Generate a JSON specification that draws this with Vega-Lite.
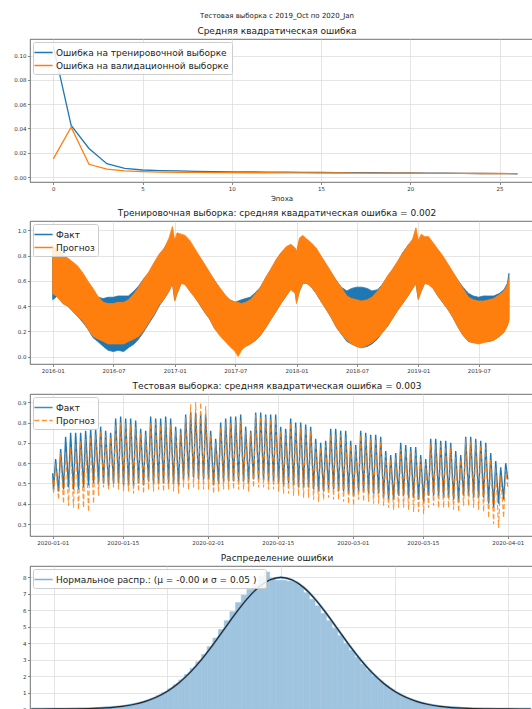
{
"$schema":"https://vega.github.io/schema/vega-lite/v6.json",
"padding":{"left":5,"top":11,"right":0,"bottom":0},
"title":{"text":"Тестовая выборка с 2019_Oct по 2020_Jan","fontSize":7,"offset":8},
"spacing":6,
"bounds":"full",
"resolve":{"scale":{"color":"independent","fill":"independent","stroke":"independent","strokeDash":"independent","x":"independent","y":"independent"},"legend":{"color":"independent","fill":"independent","stroke":"independent","strokeDash":"independent"}},
"datasets":{
"curve":[{"x":-0.22,"d":0.0005},{"x":-0.21,"d":0.0012},{"x":-0.2,"d":0.0027},{"x":-0.19,"d":0.0058},{"x":-0.18,"d":0.0122},{"x":-0.17,"d":0.0247},{"x":-0.16,"d":0.0477},{"x":-0.15,"d":0.0886},{"x":-0.14,"d":0.158},{"x":-0.13,"d":0.272},{"x":-0.12,"d":0.448},{"x":-0.11,"d":0.709},{"x":-0.1,"d":1.08},{"x":-0.09,"d":1.579},{"x":-0.08,"d":2.218},{"x":-0.07,"d":2.995},{"x":-0.06,"d":3.884},{"x":-0.05,"d":4.839},{"x":-0.04,"d":5.794},{"x":-0.03,"d":6.665},{"x":-0.02,"d":7.366},{"x":-0.01,"d":7.821},{"x":0,"d":7.979},{"x":0.01,"d":7.821},{"x":0.02,"d":7.366},{"x":0.03,"d":6.665},{"x":0.04,"d":5.794},{"x":0.05,"d":4.839},{"x":0.06,"d":3.884},{"x":0.07,"d":2.995},{"x":0.08,"d":2.218},{"x":0.09,"d":1.579},{"x":0.1,"d":1.08},{"x":0.11,"d":0.709},{"x":0.12,"d":0.448},{"x":0.13,"d":0.272},{"x":0.14,"d":0.158},{"x":0.15,"d":0.0886},{"x":0.16,"d":0.0477},{"x":0.17,"d":0.0247},{"x":0.18,"d":0.0122},{"x":0.19,"d":0.0058},{"x":0.2,"d":0.0027},{"x":0.21,"d":0.0012},{"x":0.22,"d":0.0005}]
},
"vconcat":[
{
"width":503,"height":143,
"title":{"text":"Средняя квадратическая ошибка"},
"data":{"values":[
{"e":0,"tr":0.108,"va":0.015},{"e":1,"tr":0.0425,"va":0.041},{"e":2,"tr":0.0235,"va":0.0105},{"e":3,"tr":0.011,"va":0.0065},{"e":4,"tr":0.0072,"va":0.005},{"e":5,"tr":0.0058,"va":0.0044},{"e":6,"tr":0.0053,"va":0.0041},{"e":7,"tr":0.005,"va":0.0039},{"e":8,"tr":0.0047,"va":0.0038},{"e":9,"tr":0.0045,"va":0.0037},{"e":10,"tr":0.0043,"va":0.0036},{"e":11,"tr":0.0042,"va":0.0035},{"e":12,"tr":0.0041,"va":0.0035},{"e":13,"tr":0.004,"va":0.0034},{"e":14,"tr":0.0039,"va":0.0034},{"e":15,"tr":0.0038,"va":0.0033},{"e":16,"tr":0.0037,"va":0.0033},{"e":17,"tr":0.0036,"va":0.0032},{"e":18,"tr":0.0035,"va":0.0032},{"e":19,"tr":0.0034,"va":0.0031},{"e":20,"tr":0.0033,"va":0.0031},{"e":21,"tr":0.0032,"va":0.003},{"e":22,"tr":0.0031,"va":0.003},{"e":23,"tr":0.003,"va":0.003},{"e":24,"tr":0.0029,"va":0.0029},{"e":25,"tr":0.0028,"va":0.0029},{"e":26,"tr":0.0027,"va":0.0028}
]},
"layer":[
{"mark":{"type":"line","strokeWidth":1.3,"clip":true},
"encoding":{
"x":{"field":"e","type":"quantitative","title":"Эпоха","scale":{"domain":[-1.305,26.87],"nice":false,"zero":false},"axis":{"values":[0,5,10,15,20,25],"format":"d","tickCount":30}},
"y":{"field":"tr","type":"quantitative","title":null,"scale":{"domain":[-0.0041,0.1137],"nice":false,"zero":false},"axis":{"values":[0,0.02,0.04,0.06,0.08,0.1],"format":".2f","tickCount":30}},
"color":{"datum":"Ошибка на тренировочной выборке","scale":{"domain":["Ошибка на тренировочной выборке","Ошибка на валидационной выборке"],"range":["#1f77b4","#ff7f0e"]},"legend":{"title":null}}}},
{"mark":{"type":"line","strokeWidth":1.3,"clip":true},
"encoding":{
"x":{"field":"e","type":"quantitative","title":"Эпоха"},
"y":{"field":"va","type":"quantitative","title":null},
"color":{"datum":"Ошибка на валидационной выборке"}}}
]
},
{
"width":503,"height":143,
"title":{"text":"Тренировочная выборка: средняя квадратическая ошибка = 0.002"},
"data":{"format":{"parse":{"t":"utc:'%Y-%m-%d'"}},"values":[
{"t":"2016-01-01","fl":0.45,"fh":0.85,"pl":0.5,"ph":0.88},
{"t":"2016-01-15","fl":0.48,"fh":0.82,"pl":0.47,"ph":0.84},
{"t":"2016-02-01","fl":0.42,"fh":0.8,"pl":0.42,"ph":0.81},
{"t":"2016-02-15","fl":0.4,"fh":0.77,"pl":0.4,"ph":0.78},
{"t":"2016-03-01","fl":0.36,"fh":0.74,"pl":0.36,"ph":0.75},
{"t":"2016-03-15","fl":0.32,"fh":0.7,"pl":0.32,"ph":0.72},
{"t":"2016-04-01","fl":0.27,"fh":0.64,"pl":0.28,"ph":0.66},
{"t":"2016-04-15","fl":0.22,"fh":0.58,"pl":0.22,"ph":0.6},
{"t":"2016-05-01","fl":0.15,"fh":0.52,"pl":0.16,"ph":0.54},
{"t":"2016-05-15","fl":0.12,"fh":0.47,"pl":0.14,"ph":0.48},
{"t":"2016-06-01","fl":0.08,"fh":0.46,"pl":0.12,"ph":0.43},
{"t":"2016-06-15","fl":0.05,"fh":0.47,"pl":0.1,"ph":0.42},
{"t":"2016-07-01","fl":0.04,"fh":0.47,"pl":0.1,"ph":0.42},
{"t":"2016-07-15","fl":0.05,"fh":0.48,"pl":0.1,"ph":0.43},
{"t":"2016-08-01","fl":0.04,"fh":0.48,"pl":0.1,"ph":0.43},
{"t":"2016-08-15","fl":0.07,"fh":0.48,"pl":0.12,"ph":0.45},
{"t":"2016-09-01","fl":0.1,"fh":0.52,"pl":0.14,"ph":0.5},
{"t":"2016-09-15","fl":0.14,"fh":0.56,"pl":0.16,"ph":0.55},
{"t":"2016-10-01","fl":0.2,"fh":0.62,"pl":0.21,"ph":0.62},
{"t":"2016-10-15","fl":0.26,"fh":0.66,"pl":0.27,"ph":0.67},
{"t":"2016-11-01","fl":0.33,"fh":0.74,"pl":0.34,"ph":0.75},
{"t":"2016-11-15","fl":0.4,"fh":0.8,"pl":0.41,"ph":0.81},
{"t":"2016-12-01","fl":0.46,"fh":0.86,"pl":0.46,"ph":0.86},
{"t":"2016-12-15","fl":0.52,"fh":0.92,"pl":0.52,"ph":0.94},
{"t":"2016-12-25","fl":0.58,"fh":0.98,"pl":0.58,"ph":1.03},
{"t":"2017-01-01","fl":0.45,"fh":0.9,"pl":0.44,"ph":0.92},
{"t":"2017-01-08","fl":0.5,"fh":0.95,"pl":0.5,"ph":0.98},
{"t":"2017-01-20","fl":0.58,"fh":0.95,"pl":0.58,"ph":0.97},
{"t":"2017-02-01","fl":0.58,"fh":0.94,"pl":0.57,"ph":0.96},
{"t":"2017-02-15","fl":0.52,"fh":0.9,"pl":0.52,"ph":0.92},
{"t":"2017-03-01","fl":0.48,"fh":0.84,"pl":0.47,"ph":0.86},
{"t":"2017-03-15","fl":0.42,"fh":0.79,"pl":0.42,"ph":0.8},
{"t":"2017-04-01","fl":0.35,"fh":0.72,"pl":0.35,"ph":0.73},
{"t":"2017-04-15","fl":0.3,"fh":0.66,"pl":0.3,"ph":0.67},
{"t":"2017-05-01","fl":0.22,"fh":0.6,"pl":0.22,"ph":0.6},
{"t":"2017-05-15","fl":0.18,"fh":0.54,"pl":0.17,"ph":0.55},
{"t":"2017-06-01","fl":0.13,"fh":0.48,"pl":0.12,"ph":0.49},
{"t":"2017-06-15","fl":0.1,"fh":0.45,"pl":0.08,"ph":0.45},
{"t":"2017-07-01","fl":0.07,"fh":0.43,"pl":0.04,"ph":0.43},
{"t":"2017-07-10","fl":0.06,"fh":0.44,"pl":0.0,"ph":0.43},
{"t":"2017-07-20","fl":0.07,"fh":0.45,"pl":0.05,"ph":0.42},
{"t":"2017-08-01","fl":0.08,"fh":0.46,"pl":0.08,"ph":0.43},
{"t":"2017-08-15","fl":0.1,"fh":0.47,"pl":0.1,"ph":0.45},
{"t":"2017-09-01","fl":0.13,"fh":0.51,"pl":0.13,"ph":0.5},
{"t":"2017-09-15","fl":0.17,"fh":0.55,"pl":0.17,"ph":0.55},
{"t":"2017-10-01","fl":0.23,"fh":0.62,"pl":0.23,"ph":0.63},
{"t":"2017-10-15","fl":0.29,"fh":0.68,"pl":0.29,"ph":0.69},
{"t":"2017-11-01","fl":0.36,"fh":0.76,"pl":0.36,"ph":0.77},
{"t":"2017-11-15","fl":0.42,"fh":0.82,"pl":0.42,"ph":0.82},
{"t":"2017-12-01","fl":0.48,"fh":0.86,"pl":0.48,"ph":0.87},
{"t":"2017-12-15","fl":0.54,"fh":0.88,"pl":0.53,"ph":0.89},
{"t":"2017-12-28","fl":0.52,"fh":0.85,"pl":0.5,"ph":0.86},
{"t":"2018-01-01","fl":0.44,"fh":0.82,"pl":0.42,"ph":0.83},
{"t":"2018-01-10","fl":0.52,"fh":0.92,"pl":0.52,"ph":0.94},
{"t":"2018-01-20","fl":0.58,"fh":0.94,"pl":0.58,"ph":0.96},
{"t":"2018-02-01","fl":0.58,"fh":0.92,"pl":0.58,"ph":0.93},
{"t":"2018-02-15","fl":0.55,"fh":0.88,"pl":0.55,"ph":0.9},
{"t":"2018-03-01","fl":0.5,"fh":0.84,"pl":0.5,"ph":0.86},
{"t":"2018-03-15","fl":0.44,"fh":0.79,"pl":0.44,"ph":0.8},
{"t":"2018-04-01","fl":0.37,"fh":0.72,"pl":0.37,"ph":0.73},
{"t":"2018-04-15","fl":0.31,"fh":0.66,"pl":0.31,"ph":0.67},
{"t":"2018-05-01","fl":0.23,"fh":0.6,"pl":0.23,"ph":0.6},
{"t":"2018-05-15","fl":0.18,"fh":0.55,"pl":0.18,"ph":0.55},
{"t":"2018-06-01","fl":0.12,"fh":0.52,"pl":0.13,"ph":0.48},
{"t":"2018-06-15","fl":0.1,"fh":0.54,"pl":0.1,"ph":0.46},
{"t":"2018-07-01","fl":0.08,"fh":0.55,"pl":0.08,"ph":0.45},
{"t":"2018-07-15","fl":0.07,"fh":0.55,"pl":0.07,"ph":0.44},
{"t":"2018-08-01","fl":0.08,"fh":0.54,"pl":0.09,"ph":0.45},
{"t":"2018-08-15","fl":0.1,"fh":0.52,"pl":0.11,"ph":0.47},
{"t":"2018-09-01","fl":0.14,"fh":0.53,"pl":0.15,"ph":0.52},
{"t":"2018-09-15","fl":0.19,"fh":0.57,"pl":0.19,"ph":0.57},
{"t":"2018-10-01","fl":0.24,"fh":0.63,"pl":0.24,"ph":0.64},
{"t":"2018-10-15","fl":0.3,"fh":0.68,"pl":0.3,"ph":0.69},
{"t":"2018-11-01","fl":0.37,"fh":0.75,"pl":0.37,"ph":0.76},
{"t":"2018-11-15","fl":0.42,"fh":0.82,"pl":0.42,"ph":0.82},
{"t":"2018-12-01","fl":0.48,"fh":0.88,"pl":0.48,"ph":0.88},
{"t":"2018-12-15","fl":0.54,"fh":0.92,"pl":0.54,"ph":0.93},
{"t":"2018-12-25","fl":0.58,"fh":0.98,"pl":0.58,"ph":1.02},
{"t":"2019-01-01","fl":0.46,"fh":0.9,"pl":0.45,"ph":0.92},
{"t":"2019-01-10","fl":0.52,"fh":0.94,"pl":0.52,"ph":0.97},
{"t":"2019-01-20","fl":0.58,"fh":0.93,"pl":0.58,"ph":0.95},
{"t":"2019-02-01","fl":0.58,"fh":0.92,"pl":0.57,"ph":0.95},
{"t":"2019-02-15","fl":0.54,"fh":0.88,"pl":0.54,"ph":0.9},
{"t":"2019-03-01","fl":0.48,"fh":0.84,"pl":0.48,"ph":0.85},
{"t":"2019-03-15","fl":0.43,"fh":0.79,"pl":0.43,"ph":0.8},
{"t":"2019-04-01","fl":0.37,"fh":0.72,"pl":0.37,"ph":0.73},
{"t":"2019-04-15","fl":0.31,"fh":0.66,"pl":0.31,"ph":0.67},
{"t":"2019-05-01","fl":0.23,"fh":0.6,"pl":0.23,"ph":0.6},
{"t":"2019-05-15","fl":0.17,"fh":0.55,"pl":0.17,"ph":0.54},
{"t":"2019-06-01","fl":0.12,"fh":0.5,"pl":0.12,"ph":0.47},
{"t":"2019-06-15","fl":0.11,"fh":0.48,"pl":0.11,"ph":0.45},
{"t":"2019-07-01","fl":0.11,"fh":0.47,"pl":0.1,"ph":0.44},
{"t":"2019-07-15","fl":0.12,"fh":0.48,"pl":0.11,"ph":0.44},
{"t":"2019-08-01","fl":0.12,"fh":0.48,"pl":0.12,"ph":0.45},
{"t":"2019-08-15","fl":0.13,"fh":0.48,"pl":0.13,"ph":0.46},
{"t":"2019-09-01","fl":0.16,"fh":0.5,"pl":0.16,"ph":0.49},
{"t":"2019-09-15","fl":0.2,"fh":0.53,"pl":0.19,"ph":0.52},
{"t":"2019-09-25","fl":0.25,"fh":0.58,"pl":0.24,"ph":0.57},
{"t":"2019-09-30","fl":0.3,"fh":0.66,"pl":0.28,"ph":0.62}
]},
"encoding":{"x":{"field":"t","type":"temporal","title":null,"scale":{"type":"utc","nice":false,"domain":[{"year":2015,"month":10,"date":25,"utc":true},{"year":2019,"month":12,"date":11,"utc":true}]},"axis":{"format":"%Y-%m","tickCount":30,"values":[{"year":2016,"month":1,"date":1,"utc":true},{"year":2016,"month":7,"date":1,"utc":true},{"year":2017,"month":1,"date":1,"utc":true},{"year":2017,"month":7,"date":1,"utc":true},{"year":2018,"month":1,"date":1,"utc":true},{"year":2018,"month":7,"date":1,"utc":true},{"year":2019,"month":1,"date":1,"utc":true},{"year":2019,"month":7,"date":1,"utc":true}]}}},
"layer":[
{"mark":{"type":"area","opacity":1,"strokeWidth":0.8,"clip":true},
"encoding":{
"y":{"field":"fl","type":"quantitative","title":null,"scale":{"domain":[-0.0587,1.074],"nice":false,"zero":false},"axis":{"values":[0,0.2,0.4,0.6,0.8,1.0],"format":".1f","tickCount":30}},
"y2":{"field":"fh"},
"fill":{"datum":"Факт","scale":{"domain":["Факт","Прогноз"],"range":["#1f77b4","#ff7f0e"]},"legend":{"title":null}},
"stroke":{"datum":"Факт","scale":{"domain":["Факт","Прогноз"],"range":["#1f77b4","#ff7f0e"]},"legend":{"title":null}},
"strokeDash":{"datum":"Факт","scale":{"domain":["Факт","Прогноз"],"range":[[1,0],[5,2.5]]},"legend":{"title":null}}}},
{"mark":{"type":"area","opacity":1,"strokeWidth":0.8,"clip":true},
"encoding":{
"y":{"field":"pl","type":"quantitative","title":null},
"y2":{"field":"ph"},
"fill":{"datum":"Прогноз"},
"stroke":{"datum":"Прогноз"},
"strokeDash":{"datum":"Прогноз"}}}
]
},
{
"width":503,"height":142,
"title":{"text":"Тестовая выборка: средняя квадратическая ошибка = 0.003"},
"data":{"format":{"parse":{"t":"utc:'%Y-%m-%d %H'"}},"values":[
{"t":"2020-01-01 00","f":0.55,"p":0.52},
{"t":"2020-01-01 04","f":0.47,"p":0.45},{"t":"2020-01-01 14","f":0.62,"p":0.6},
{"t":"2020-01-02 04","f":0.46,"p":0.42},{"t":"2020-01-02 14","f":0.67,"p":0.65},
{"t":"2020-01-03 04","f":0.47,"p":0.4},{"t":"2020-01-03 14","f":0.73,"p":0.66},
{"t":"2020-01-04 04","f":0.48,"p":0.39},{"t":"2020-01-04 14","f":0.75,"p":0.68},
{"t":"2020-01-05 04","f":0.47,"p":0.38},{"t":"2020-01-05 14","f":0.75,"p":0.7},
{"t":"2020-01-06 04","f":0.47,"p":0.37},{"t":"2020-01-06 14","f":0.75,"p":0.71},
{"t":"2020-01-07 04","f":0.48,"p":0.38},{"t":"2020-01-07 14","f":0.76,"p":0.72},
{"t":"2020-01-08 04","f":0.49,"p":0.36},{"t":"2020-01-08 14","f":0.77,"p":0.73},
{"t":"2020-01-09 04","f":0.5,"p":0.4},{"t":"2020-01-09 14","f":0.77,"p":0.74},
{"t":"2020-01-10 04","f":0.5,"p":0.44},{"t":"2020-01-10 14","f":0.78,"p":0.76},
{"t":"2020-01-11 04","f":0.5,"p":0.48},{"t":"2020-01-11 14","f":0.76,"p":0.74},
{"t":"2020-01-12 04","f":0.49,"p":0.47},{"t":"2020-01-12 14","f":0.75,"p":0.73},
{"t":"2020-01-13 04","f":0.5,"p":0.48},{"t":"2020-01-13 14","f":0.82,"p":0.79},
{"t":"2020-01-14 04","f":0.5,"p":0.47},{"t":"2020-01-14 14","f":0.83,"p":0.8},
{"t":"2020-01-15 04","f":0.49,"p":0.46},{"t":"2020-01-15 14","f":0.82,"p":0.8},
{"t":"2020-01-16 04","f":0.49,"p":0.46},{"t":"2020-01-16 14","f":0.82,"p":0.79},
{"t":"2020-01-17 04","f":0.49,"p":0.45},{"t":"2020-01-17 14","f":0.81,"p":0.78},
{"t":"2020-01-18 04","f":0.5,"p":0.46},{"t":"2020-01-18 14","f":0.77,"p":0.75},
{"t":"2020-01-19 04","f":0.49,"p":0.45},{"t":"2020-01-19 14","f":0.76,"p":0.74},
{"t":"2020-01-20 04","f":0.51,"p":0.47},{"t":"2020-01-20 14","f":0.83,"p":0.8},
{"t":"2020-01-21 04","f":0.5,"p":0.46},{"t":"2020-01-21 14","f":0.82,"p":0.8},
{"t":"2020-01-22 04","f":0.5,"p":0.47},{"t":"2020-01-22 14","f":0.82,"p":0.79},
{"t":"2020-01-23 04","f":0.5,"p":0.46},{"t":"2020-01-23 14","f":0.83,"p":0.8},
{"t":"2020-01-24 04","f":0.5,"p":0.47},{"t":"2020-01-24 14","f":0.82,"p":0.79},
{"t":"2020-01-25 04","f":0.5,"p":0.46},{"t":"2020-01-25 14","f":0.78,"p":0.76},
{"t":"2020-01-26 04","f":0.49,"p":0.45},{"t":"2020-01-26 14","f":0.77,"p":0.75},
{"t":"2020-01-27 04","f":0.52,"p":0.48},{"t":"2020-01-27 14","f":0.84,"p":0.83},
{"t":"2020-01-28 04","f":0.53,"p":0.47},{"t":"2020-01-28 14","f":0.85,"p":0.89},
{"t":"2020-01-29 04","f":0.53,"p":0.48},{"t":"2020-01-29 14","f":0.85,"p":0.9},
{"t":"2020-01-30 04","f":0.52,"p":0.47},{"t":"2020-01-30 14","f":0.84,"p":0.9},
{"t":"2020-01-31 04","f":0.52,"p":0.47},{"t":"2020-01-31 14","f":0.84,"p":0.88},
{"t":"2020-02-01 04","f":0.52,"p":0.47},{"t":"2020-02-01 14","f":0.76,"p":0.74},
{"t":"2020-02-02 04","f":0.49,"p":0.45},{"t":"2020-02-02 14","f":0.72,"p":0.7},
{"t":"2020-02-03 04","f":0.5,"p":0.46},{"t":"2020-02-03 14","f":0.8,"p":0.78},
{"t":"2020-02-04 04","f":0.51,"p":0.47},{"t":"2020-02-04 14","f":0.82,"p":0.8},
{"t":"2020-02-05 04","f":0.51,"p":0.47},{"t":"2020-02-05 14","f":0.83,"p":0.8},
{"t":"2020-02-06 04","f":0.51,"p":0.47},{"t":"2020-02-06 14","f":0.83,"p":0.81},
{"t":"2020-02-07 04","f":0.51,"p":0.47},{"t":"2020-02-07 14","f":0.84,"p":0.81},
{"t":"2020-02-08 04","f":0.51,"p":0.47},{"t":"2020-02-08 14","f":0.78,"p":0.76},
{"t":"2020-02-09 04","f":0.5,"p":0.46},{"t":"2020-02-09 14","f":0.76,"p":0.75},
{"t":"2020-02-10 04","f":0.52,"p":0.48},{"t":"2020-02-10 14","f":0.85,"p":0.84},
{"t":"2020-02-11 04","f":0.52,"p":0.48},{"t":"2020-02-11 14","f":0.85,"p":0.83},
{"t":"2020-02-12 04","f":0.52,"p":0.48},{"t":"2020-02-12 14","f":0.84,"p":0.83},
{"t":"2020-02-13 04","f":0.51,"p":0.47},{"t":"2020-02-13 14","f":0.84,"p":0.82},
{"t":"2020-02-14 04","f":0.51,"p":0.47},{"t":"2020-02-14 14","f":0.84,"p":0.82},
{"t":"2020-02-15 04","f":0.5,"p":0.46},{"t":"2020-02-15 14","f":0.78,"p":0.76},
{"t":"2020-02-16 04","f":0.49,"p":0.45},{"t":"2020-02-16 14","f":0.77,"p":0.75},
{"t":"2020-02-17 04","f":0.5,"p":0.45},{"t":"2020-02-17 14","f":0.82,"p":0.8},
{"t":"2020-02-18 04","f":0.49,"p":0.44},{"t":"2020-02-18 14","f":0.8,"p":0.78},
{"t":"2020-02-19 04","f":0.48,"p":0.44},{"t":"2020-02-19 14","f":0.8,"p":0.78},
{"t":"2020-02-20 04","f":0.48,"p":0.43},{"t":"2020-02-20 14","f":0.79,"p":0.77},
{"t":"2020-02-21 04","f":0.48,"p":0.43},{"t":"2020-02-21 14","f":0.78,"p":0.76},
{"t":"2020-02-22 04","f":0.47,"p":0.42},{"t":"2020-02-22 14","f":0.72,"p":0.7},
{"t":"2020-02-23 04","f":0.46,"p":0.41},{"t":"2020-02-23 14","f":0.7,"p":0.68},
{"t":"2020-02-24 04","f":0.46,"p":0.42},{"t":"2020-02-24 14","f":0.71,"p":0.69},
{"t":"2020-02-25 04","f":0.47,"p":0.43},{"t":"2020-02-25 14","f":0.77,"p":0.74},
{"t":"2020-02-26 04","f":0.47,"p":0.42},{"t":"2020-02-26 14","f":0.77,"p":0.74},
{"t":"2020-02-27 04","f":0.46,"p":0.42},{"t":"2020-02-27 14","f":0.76,"p":0.74},
{"t":"2020-02-28 04","f":0.46,"p":0.41},{"t":"2020-02-28 14","f":0.76,"p":0.73},
{"t":"2020-02-29 04","f":0.45,"p":0.4},{"t":"2020-02-29 14","f":0.71,"p":0.69},
{"t":"2020-03-01 04","f":0.44,"p":0.39},{"t":"2020-03-01 14","f":0.69,"p":0.67},
{"t":"2020-03-02 04","f":0.46,"p":0.42},{"t":"2020-03-02 14","f":0.76,"p":0.74},
{"t":"2020-03-03 04","f":0.46,"p":0.41},{"t":"2020-03-03 14","f":0.75,"p":0.73},
{"t":"2020-03-04 04","f":0.45,"p":0.41},{"t":"2020-03-04 14","f":0.74,"p":0.72},
{"t":"2020-03-05 04","f":0.45,"p":0.4},{"t":"2020-03-05 14","f":0.74,"p":0.72},
{"t":"2020-03-06 04","f":0.45,"p":0.4},{"t":"2020-03-06 14","f":0.73,"p":0.71},
{"t":"2020-03-07 04","f":0.43,"p":0.39},{"t":"2020-03-07 14","f":0.66,"p":0.64},
{"t":"2020-03-08 04","f":0.42,"p":0.38},{"t":"2020-03-08 14","f":0.64,"p":0.62},
{"t":"2020-03-09 04","f":0.42,"p":0.37},{"t":"2020-03-09 14","f":0.65,"p":0.63},
{"t":"2020-03-10 04","f":0.44,"p":0.38},{"t":"2020-03-10 14","f":0.7,"p":0.67},
{"t":"2020-03-11 04","f":0.44,"p":0.38},{"t":"2020-03-11 14","f":0.69,"p":0.66},
{"t":"2020-03-12 04","f":0.43,"p":0.37},{"t":"2020-03-12 14","f":0.68,"p":0.66},
{"t":"2020-03-13 04","f":0.43,"p":0.36},{"t":"2020-03-13 14","f":0.68,"p":0.65},
{"t":"2020-03-14 04","f":0.42,"p":0.36},{"t":"2020-03-14 14","f":0.64,"p":0.62},
{"t":"2020-03-15 04","f":0.41,"p":0.35},{"t":"2020-03-15 14","f":0.62,"p":0.6},
{"t":"2020-03-16 04","f":0.44,"p":0.38},{"t":"2020-03-16 14","f":0.72,"p":0.7},
{"t":"2020-03-17 04","f":0.44,"p":0.39},{"t":"2020-03-17 14","f":0.72,"p":0.69},
{"t":"2020-03-18 04","f":0.44,"p":0.38},{"t":"2020-03-18 14","f":0.71,"p":0.69},
{"t":"2020-03-19 04","f":0.43,"p":0.38},{"t":"2020-03-19 14","f":0.71,"p":0.68},
{"t":"2020-03-20 04","f":0.43,"p":0.38},{"t":"2020-03-20 14","f":0.7,"p":0.68},
{"t":"2020-03-21 04","f":0.42,"p":0.37},{"t":"2020-03-21 14","f":0.66,"p":0.63},
{"t":"2020-03-22 04","f":0.41,"p":0.36},{"t":"2020-03-22 14","f":0.64,"p":0.62},
{"t":"2020-03-23 04","f":0.44,"p":0.39},{"t":"2020-03-23 14","f":0.73,"p":0.72},
{"t":"2020-03-24 04","f":0.44,"p":0.39},{"t":"2020-03-24 14","f":0.73,"p":0.71},
{"t":"2020-03-25 04","f":0.43,"p":0.38},{"t":"2020-03-25 14","f":0.72,"p":0.7},
{"t":"2020-03-26 04","f":0.43,"p":0.37},{"t":"2020-03-26 14","f":0.71,"p":0.69},
{"t":"2020-03-27 04","f":0.43,"p":0.36},{"t":"2020-03-27 14","f":0.7,"p":0.68},
{"t":"2020-03-28 04","f":0.4,"p":0.33},{"t":"2020-03-28 14","f":0.65,"p":0.62},
{"t":"2020-03-29 04","f":0.38,"p":0.3},{"t":"2020-03-29 14","f":0.61,"p":0.58},
{"t":"2020-03-30 04","f":0.4,"p":0.28},{"t":"2020-03-30 14","f":0.58,"p":0.54},
{"t":"2020-03-31 04","f":0.42,"p":0.33},{"t":"2020-03-31 14","f":0.6,"p":0.57},
{"t":"2020-04-01 00","f":0.52,"p":0.48}
]},
"encoding":{"x":{"field":"t","type":"temporal","title":null,"scale":{"type":"utc","nice":false,"domain":[{"year":2019,"month":12,"date":27,"hours":11,"utc":true},{"year":2020,"month":4,"date":6,"hours":1,"utc":true}]},"axis":{"format":"%Y-%m-%d","tickCount":30,"values":[{"year":2020,"month":1,"date":1,"utc":true},{"year":2020,"month":1,"date":15,"utc":true},{"year":2020,"month":2,"date":1,"utc":true},{"year":2020,"month":2,"date":15,"utc":true},{"year":2020,"month":3,"date":1,"utc":true},{"year":2020,"month":3,"date":15,"utc":true},{"year":2020,"month":4,"date":1,"utc":true}]}}},
"layer":[
{"mark":{"type":"line","strokeWidth":1.4,"clip":true},
"encoding":{
"y":{"field":"f","type":"quantitative","title":null,"scale":{"domain":[0.241,0.941],"nice":false,"zero":false},"axis":{"values":[0.3,0.4,0.5,0.6,0.7,0.8,0.9],"format":".1f","tickCount":30}},
"color":{"datum":"Факт","scale":{"domain":["Факт","Прогноз"],"range":["#1f77b4","#ff7f0e"]},"legend":{"title":null}},
"strokeDash":{"datum":"Факт","scale":{"domain":["Факт","Прогноз"],"range":[[1,0],[5,2.5]]},"legend":{"title":null}}}},
{"mark":{"type":"line","strokeWidth":1.1,"clip":true,"opacity":0.85},
"encoding":{
"y":{"field":"p","type":"quantitative","title":null},
"color":{"datum":"Прогноз"},
"strokeDash":{"datum":"Прогноз"}}}
]
},
{
"width":503,"height":143,
"title":{"text":"Распределение ошибки"},
"layer":[
{"data":{"values":[
{"b0":-0.2,"b1":-0.195,"h":0.003},{"b0":-0.195,"b1":-0.19,"h":0.005},{"b0":-0.19,"b1":-0.185,"h":0.007},{"b0":-0.185,"b1":-0.18,"h":0.01},{"b0":-0.18,"b1":-0.175,"h":0.015},{"b0":-0.175,"b1":-0.17,"h":0.021},{"b0":-0.17,"b1":-0.165,"h":0.03},{"b0":-0.165,"b1":-0.16,"h":0.042},{"b0":-0.16,"b1":-0.155,"h":0.058},{"b0":-0.155,"b1":-0.15,"h":0.08},
{"b0":-0.15,"b1":-0.145,"h":0.11},{"b0":-0.145,"b1":-0.14,"h":0.145},{"b0":-0.14,"b1":-0.135,"h":0.19},{"b0":-0.135,"b1":-0.13,"h":0.25},{"b0":-0.13,"b1":-0.125,"h":0.32},{"b0":-0.125,"b1":-0.12,"h":0.41},{"b0":-0.12,"b1":-0.115,"h":0.52},{"b0":-0.115,"b1":-0.11,"h":0.65},{"b0":-0.11,"b1":-0.105,"h":0.81},{"b0":-0.105,"b1":-0.1,"h":1.0},
{"b0":-0.1,"b1":-0.095,"h":1.22},{"b0":-0.095,"b1":-0.09,"h":1.47},{"b0":-0.09,"b1":-0.085,"h":1.76},{"b0":-0.085,"b1":-0.08,"h":2.09},{"b0":-0.08,"b1":-0.075,"h":2.46},{"b0":-0.075,"b1":-0.07,"h":2.86},{"b0":-0.07,"b1":-0.065,"h":3.3},{"b0":-0.065,"b1":-0.06,"h":3.78},{"b0":-0.06,"b1":-0.055,"h":4.3},{"b0":-0.055,"b1":-0.05,"h":4.82},
{"b0":-0.05,"b1":-0.045,"h":5.35},{"b0":-0.045,"b1":-0.04,"h":5.9},{"b0":-0.04,"b1":-0.035,"h":6.45},{"b0":-0.035,"b1":-0.03,"h":6.9},{"b0":-0.03,"b1":-0.025,"h":7.25},{"b0":-0.025,"b1":-0.02,"h":7.55},{"b0":-0.02,"b1":-0.015,"h":8.05},{"b0":-0.015,"b1":-0.01,"h":8.3},{"b0":-0.01,"b1":-0.005,"h":7.95},{"b0":-0.005,"b1":0,"h":7.8},
{"b0":0,"b1":0.005,"h":7.8},{"b0":0.005,"b1":0.01,"h":7.75},{"b0":0.01,"b1":0.015,"h":7.7},{"b0":0.015,"b1":0.02,"h":7.45},{"b0":0.02,"b1":0.025,"h":7.05},{"b0":0.025,"b1":0.03,"h":6.65},{"b0":0.03,"b1":0.035,"h":6.25},{"b0":0.035,"b1":0.04,"h":5.8},{"b0":0.04,"b1":0.045,"h":5.35},{"b0":0.045,"b1":0.05,"h":4.9},
{"b0":0.05,"b1":0.055,"h":4.45},{"b0":0.055,"b1":0.06,"h":3.98},{"b0":0.06,"b1":0.065,"h":3.55},{"b0":0.065,"b1":0.07,"h":3.12},{"b0":0.07,"b1":0.075,"h":2.72},{"b0":0.075,"b1":0.08,"h":2.35},{"b0":0.08,"b1":0.085,"h":2.0},{"b0":0.085,"b1":0.09,"h":1.7},{"b0":0.09,"b1":0.095,"h":1.42},{"b0":0.095,"b1":0.1,"h":1.18},
{"b0":0.1,"b1":0.105,"h":0.97},{"b0":0.105,"b1":0.11,"h":0.79},{"b0":0.11,"b1":0.115,"h":0.64},{"b0":0.115,"b1":0.12,"h":0.51},{"b0":0.12,"b1":0.125,"h":0.4},{"b0":0.125,"b1":0.13,"h":0.31},{"b0":0.13,"b1":0.135,"h":0.24},{"b0":0.135,"b1":0.14,"h":0.18},{"b0":0.14,"b1":0.145,"h":0.14},{"b0":0.145,"b1":0.15,"h":0.1},
{"b0":0.15,"b1":0.155,"h":0.076},{"b0":0.155,"b1":0.16,"h":0.056},{"b0":0.16,"b1":0.165,"h":0.041},{"b0":0.165,"b1":0.17,"h":0.029},{"b0":0.17,"b1":0.175,"h":0.021},{"b0":0.175,"b1":0.18,"h":0.015},{"b0":0.18,"b1":0.185,"h":0.01},{"b0":0.185,"b1":0.19,"h":0.007},{"b0":0.19,"b1":0.195,"h":0.005},{"b0":0.195,"b1":0.2,"h":0.003}
]},
"mark":{"type":"rect","color":"#9fc4df","stroke":"#9fc4df","strokeWidth":0.6,"opacity":1,"clip":true},
"encoding":{
"x":{"field":"b0","type":"quantitative","title":null,"scale":{"domain":[-0.2211,0.222],"nice":false,"zero":false},"axis":{"values":[-0.2,-0.1,0,0.1,0.2],"format":".1f","tickCount":30}},
"x2":{"field":"b1"},
"y":{"field":"h","type":"quantitative","title":null,"scale":{"domain":[0,8.67],"nice":false},"axis":{"values":[0,1,2,3,4,5,6,7,8],"format":"d","tickCount":30}},
"y2":{"datum":0}}},
{"data":{"name":"curve"},
"mark":{"type":"line","interpolate":"monotone","strokeWidth":2.4,"clip":true},
"encoding":{
"x":{"field":"x","type":"quantitative","title":null},
"y":{"field":"d","type":"quantitative","title":null},
"color":{"datum":"Нормальное распр.: (μ =  -0.00 и σ =  0.05 )","scale":{"range":["#7fb1d8"]},"legend":{"title":null}}}},
{"data":{"name":"curve"},
"mark":{"type":"line","interpolate":"monotone","strokeWidth":1.2,"color":"#262626","clip":true},
"encoding":{
"x":{"field":"x","type":"quantitative","title":null},
"y":{"field":"d","type":"quantitative","title":null}}}
]
}
],
"config":{
"font":"DejaVu Sans",
"background":"white",
"view":{"stroke":"#4d4d4d","strokeWidth":0.8},
"axis":{"grid":true,"gridColor":"#dadada","gridWidth":0.7,"domain":false,"tickColor":"#555555","tickSize":2.5,"tickWidth":0.7,"labelFontSize":5.5,"labelColor":"#333333","labelPadding":1.5,"labelOverlap":false,"labelFlush":false,"labelBound":false,"titleFontSize":7,"titleFontWeight":"normal","titleColor":"#222222","titlePadding":2},
"axisY":{"minExtent":24,"maxExtent":24},
"axisX":{"minExtent":10,"maxExtent":10},
"title":{"fontSize":9,"fontWeight":"normal","color":"#1a1a1a","offset":3,"baseline":"bottom","frame":"group","anchor":"middle","dx":-4.5},
"legend":{"orient":"top-left","offset":3,"fillColor":"rgba(255,255,255,0.85)","strokeColor":"#cccccc","cornerRadius":2,"padding":3,"labelFontSize":9,"labelLimit":400,"labelColor":"#222222","symbolType":"M-1.4,0L1.4,0","symbolSize":170,"symbolStrokeWidth":1.5,"rowPadding":0,"labelOffset":5}
}
}
